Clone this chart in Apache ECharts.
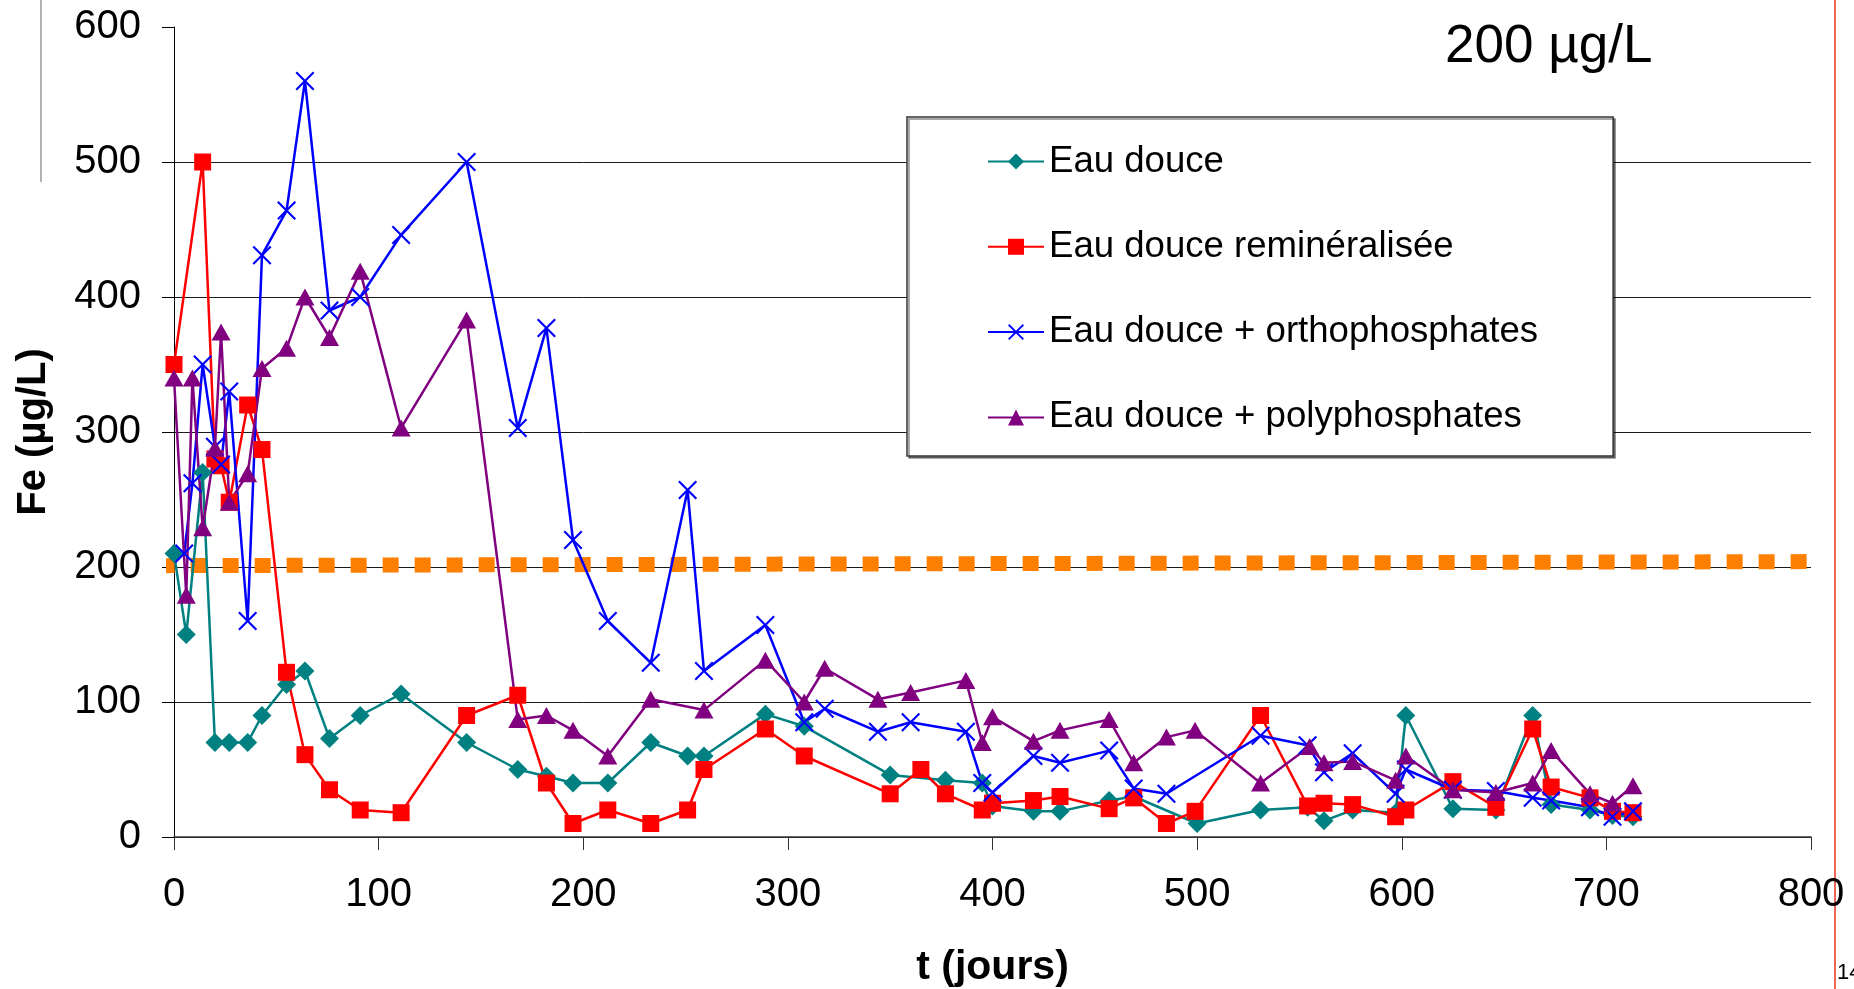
<!DOCTYPE html>
<html><head><meta charset="utf-8">
<script src="https://cdn.jsdelivr.net/npm/echarts@6/dist/echarts.min.js"></script>
<style>html,body{margin:0;padding:0;background:#fff}#c{width:1854px;height:989px}</style>
</head><body><div id="c"></div>
<script>
// Eau douce
const joursEau = [0,6,14,20,27,36,43,55,64,76,91,111,143,168,182,195,212,233,251,259,289,308,350,377,395,400,420,433,457,469,500,531,554,562,576,597,602,625,646,664,673,692,703,713];
const feEau = [210,150,270,70,70,70,90,113,123,73,90,106,70,50,45,40,40,70,60,60,91,82,46,42,40,23,19,19,27,30,10,20,22,12,20,18,90,21,20,90,24,20,16,15];
// Eau douce reminéralisée
const joursRemin = [0,14,20,23,27,36,43,55,64,76,91,111,143,168,182,195,212,233,251,259,289,308,350,365,377,395,400,420,433,457,469,485,499,531,554,562,576,597,602,625,646,664,673,692,703,713];
const feRemin = [350,500,280,275,248,320,287,122,61,35,20,18,90,105,40,10,20,10,20,50,80,60,32,50,32,20,25,27,30,21,29,10,19,90,23,25,24,15,20,41,22,80,37,29,19,18];
// Eau douce + orthophosphates
const joursOrtho = [5,9,14,20,23,27,36,43,55,64,76,91,111,143,168,182,195,212,233,251,259,289,308,318,344,360,387,395,400,420,433,457,469,485,531,554,562,576,597,602,625,646,664,673,692,703,713];
const feOrtho = [210,262,350,289,276,330,160,431,464,560,390,400,446,500,303,377,220,160,129,257,123,157,85,95,78,85,78,40,33,60,55,64,36,32,75,68,48,62,32,50,35,34,29,27,22,15,19];
// Eau douce + polyphosphates
const joursPoly = [0,6,9,14,20,23,27,36,43,55,64,76,91,111,143,168,182,195,212,233,259,289,308,318,344,360,387,395,400,420,433,457,469,485,499,531,555,562,576,597,602,625,646,664,673,692,703,713];
const fePoly = [340,179,340,229,288,374,248,269,347,362,400,370,419,303,383,87,90,79,60,102,94,131,100,125,102,107,116,70,89,71,79,87,55,74,79,40,67,55,56,42,60,35,33,40,64,32,25,38];
// Référence de qualité (200 µg/L) — dotted line starts just left of the axis
const joursRef = [-7.5,800];
const feRef = [201,204];

const xTicks = [0,100,200,300,400,500,600,700,800];
const yTicks = [0,100,200,300,400,500,600];

const names = ['Eau douce','Eau douce reminéralisée','Eau douce + orthophosphates','Eau douce + polyphosphates'];
const pairs = (xs, ys) => xs.map((x,i)=>[x, ys[i]]);
const FONT = 'Liberation Sans, Arial, sans-serif';
const xPath = 'path://M0,0.8L0.8,0L5,4.2L9.2,0L10,0.8L5.8,5L10,9.2L9.2,10L5,5.8L0.8,10L0,9.2L4.2,5Z';

function lineSeries(name, data, color, symbol, size) {
  return {
    name, type:'line', data, showAllSymbol:true, symbol, symbolSize:size,
    lineStyle:{color, width:2.5}, itemStyle:{color},
    emphasis:{disabled:true}, animation:false
  };
}

const chart = echarts.init(document.getElementById('c'), null, {renderer:'canvas'});
chart.setOption({
  animation:false,
  backgroundColor:'#fff',
  textStyle:{fontFamily:FONT},
  grid:{left:174, right:43, top:27, bottom:152, containLabel:false, outerBoundsMode:'none'},
  legend:{
    data:names, orient:'vertical', left:907, top:117,
    padding:[26,75,20,80], itemGap:48.3, itemWidth:56, itemHeight:20,
    backgroundColor:'#fff', borderColor:'#333', borderWidth:1.5,
    shadowColor:'rgba(0,0,0,0.45)', shadowOffsetX:2, shadowOffsetY:2, shadowBlur:0,
    selectedMode:false,
    textStyle:{fontSize:36.6, lineHeight:36, color:'#000', fontFamily:FONT}
  },
  xAxis:{
    type:'value', min:xTicks[0], max:xTicks[xTicks.length-1], interval:100,
    name:'t (jours)', nameLocation:'middle', nameGap:110,
    nameTextStyle:{fontSize:41, fontWeight:'bold', color:'#000', fontFamily:FONT},
    axisLine:{show:true, lineStyle:{color:'#333', width:1.5}},
    axisTick:{show:true, length:13, lineStyle:{color:'#333'}},
    axisLabel:{fontSize:40, color:'#000', margin:38, fontFamily:FONT},
    splitLine:{show:false}
  },
  yAxis:{
    type:'value', min:yTicks[0], max:yTicks[yTicks.length-1], interval:100,
    name:'Fe (µg/L)', nameLocation:'middle', nameGap:120,
    nameTextStyle:{fontSize:40, fontWeight:'bold', color:'#000', fontFamily:FONT},
    axisLine:{show:true, lineStyle:{color:'#000', width:1}},
    axisTick:{show:true, length:12, lineStyle:{color:'#000'}},
    axisLabel:{fontSize:40, color:'#000', margin:33, fontFamily:FONT},
    splitLine:{show:true, showMaxLine:false, lineStyle:{color:'#1a1a1a', width:1}}
  },
  series:[
    {
      name:'Référence', type:'line', data:pairs(joursRef, feRef), symbol:'none', clip:false,
      lineStyle:{color:'#FF7F00', width:15, type:[16,16], dashOffset:0, cap:'butt'},
      emphasis:{disabled:true}, z:1, animation:false
    },
    lineSeries(names[0], pairs(joursEau, feEau), '#008080', 'diamond', 19),
    lineSeries(names[1], pairs(joursRemin, feRemin), '#FF0000', 'rect', 17),
    lineSeries(names[2], pairs(joursOrtho, feOrtho), '#0000FF', xPath, 19),
    lineSeries(names[3], pairs(joursPoly, fePoly), '#800080', 'triangle', [19,17])
  ],
  graphic:[
    {type:'text', left:1445, top:21, style:{text:'200 µg/L', fontSize:53, fontFamily:FONT, fill:'#000'}},
    {type:'line', shape:{x1:41, y1:0, x2:41, y2:182}, style:{stroke:'#999', lineWidth:1.5}},
    {type:'line', shape:{x1:1835, y1:0, x2:1835, y2:989}, style:{stroke:'#E5391F', lineWidth:1.5}},
    {type:'text', left:1837, top:962, style:{text:'14', fontSize:22, fontFamily:FONT, fill:'#000'}}
  ]
});
</script></body></html>
